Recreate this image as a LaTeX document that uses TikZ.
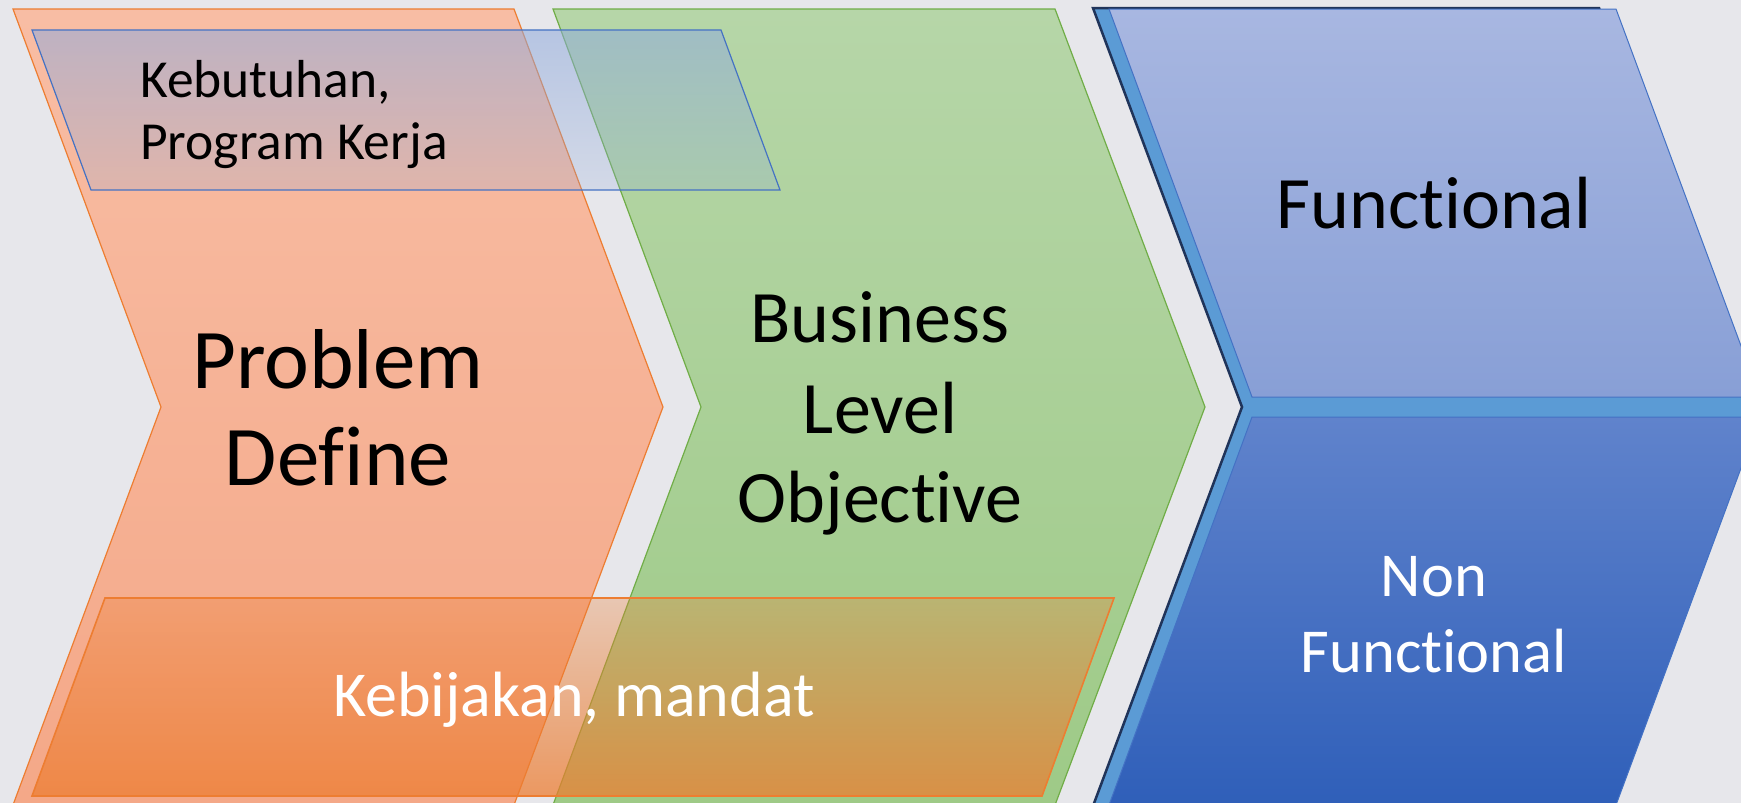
\documentclass[tikz,border=0pt]{standalone}
\usepackage{fontspec}
\setmainfont{Carlito}[Ligatures={NoCommon}]
\usetikzlibrary{fadings}

\definecolor{bgGray}{RGB}{231,231,235}
\definecolor{orTop}{RGB}{248,189,164}
\definecolor{orBot}{RGB}{244,168,136}
\definecolor{orLine}{RGB}{237,125,49}
\definecolor{grTop}{RGB}{182,214,168}
\definecolor{grBot}{RGB}{158,202,135}
\definecolor{grLine}{RGB}{112,173,71}
\definecolor{blBand}{RGB}{91,155,213}
\definecolor{blDark}{RGB}{32,52,90}
\definecolor{blLine}{RGB}{68,114,196}
\definecolor{fnTop}{RGB}{168,183,225}
\definecolor{fnBot}{RGB}{136,159,214}
\definecolor{nfTop}{RGB}{96,131,204}
\definecolor{nfBot}{RGB}{47,95,185}
\definecolor{capBlue}{RGB}{143,170,220}

\tikzfading[name=capfade, top color=transparent!45, bottom color=transparent!78]
\tikzfading[name=basefade, top color=transparent!70, middle color=transparent!20, bottom color=transparent!26]

\tikzset{
  lbl/.style={inner sep=0pt, anchor=base},
  lblL/.style={inner sep=0pt, anchor=base west},
}

\begin{document}
\begin{tikzpicture}[x=1pt,y=-1pt]
\useasboundingbox (0,0) rectangle (1741,803);
\fill[bgGray] (0,0) rectangle (1741,803);

% first chevron
\shadedraw[top color=orTop, bottom color=orBot, draw=orLine, line width=1.2pt]
  (13,9) -- (514,9) -- (663,407) -- (514,805) -- (13,805) -- (161,407) -- cycle;

% second chevron
\shadedraw[top color=grTop, bottom color=grBot, draw=grLine, line width=1.2pt]
  (553,9) -- (1055,9) -- (1205,407) -- (1055,805) -- (553,805) -- (701,407) -- cycle;

% third chevron with its two panels
\filldraw[fill=blBand, draw=blDark, line width=2.5pt, line join=miter]
  (1093,8) -- (1599,8) -- (1748,407) -- (1599,806) -- (1093,806) -- (1242,407) -- cycle;
\shadedraw[top color=fnTop, bottom color=fnBot, draw=blLine, line width=1pt]
  (1109,9) -- (1616,9) -- (1760,397) -- (1252,397) -- cycle;
\shadedraw[top color=nfTop, bottom color=nfBot, draw=blLine, line width=1pt]
  (1252,417) -- (1760,417) -- (1616,805) -- (1109,805) -- cycle;

% translucent upper band
\fill[capBlue, path fading=capfade] (32,30) -- (721,30) -- (780,190) -- (91,190) -- cycle;
\draw[blLine, line width=1.2pt] (32,30) -- (721,30) -- (780,190) -- (91,190) -- cycle;

% translucent lower band
\fill[orLine, path fading=basefade] (105,598) -- (1114,598) -- (1042,796) -- (32,796) -- cycle;
\draw[orLine, line width=1.6pt] (105,598) -- (1114,598) -- (1042,796) -- (32,796) -- cycle;

% labels
\node[lblL, font=\fontsize{53.5}{63}\selectfont] (kebA) at (140,97) {Kebutuhan,};
\node[lblL, font=\fontsize{53.5}{63}\selectfont] (kebB) at (140,159) {Program Kerja};

\node[lbl, font=\fontsize{85}{100}\selectfont] (probA) at (338,388) {Problem};
\node[lbl, font=\fontsize{85}{100}\selectfont] (probB) at (338,485) {Define};

\node[lbl, font=\fontsize{74}{89}\selectfont] (busA) at (880,342) {Business};
\node[lbl, font=\fontsize{74}{89}\selectfont] (busB) at (880,433) {Level};
\node[lbl, font=\fontsize{74}{89}\selectfont] (busC) at (880,522) {Objective};

\node[lbl, font=\fontsize{74}{89}\selectfont] (func) at (1434,228) {Functional};

\node[lbl, white, font=\fontsize{62.5}{75}\selectfont] (nonA) at (1434,596) {Non};
\node[lbl, white, font=\fontsize{62.5}{75}\selectfont] (nonB) at (1434,672) {Functional};

\node[lbl, white, font=\fontsize{64}{74}\selectfont] (polic) at (574,716) {Kebijakan, mandat};
\end{tikzpicture}
\end{document}
